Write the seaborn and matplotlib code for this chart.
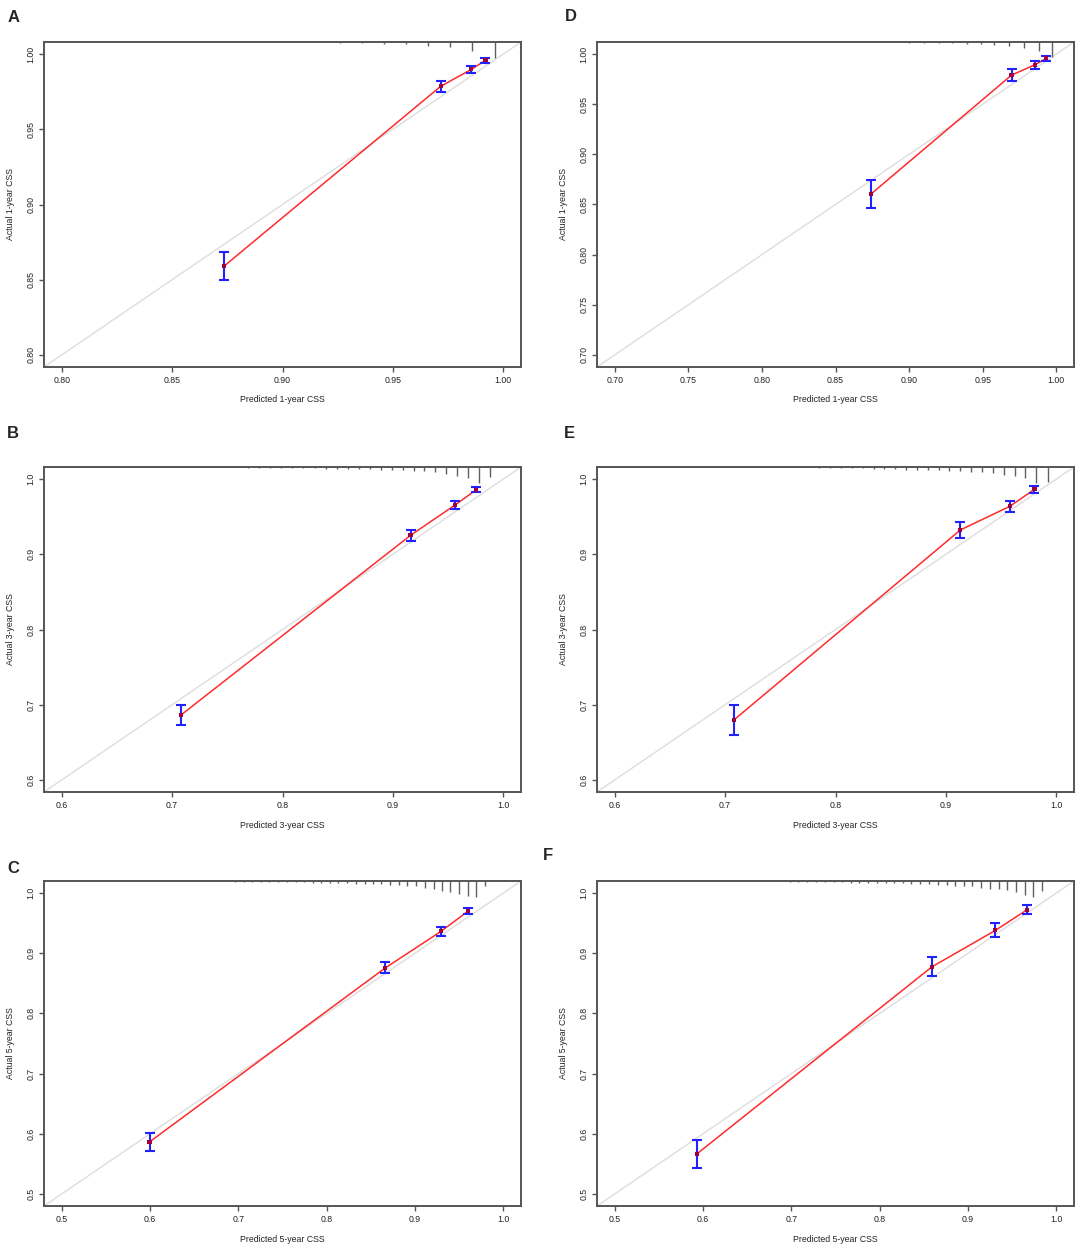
import matplotlib
matplotlib.use("Agg")
import matplotlib.pyplot as plt
import seaborn as sns
import numpy as np
import pandas as pd

sns.set_style("ticks")
plt.rcParams['font.family'] = ['Liberation Sans', 'DejaVu Sans']

W, H = 1084, 1252

# ---- panel A: 1-year CSS (left) ----
a_pred = [0.8735, 0.9716, 0.9855, 0.9919]
a_obs = [0.859, 0.9785, 0.9898, 0.9958]
a_lo = [0.8501, 0.9749, 0.9871, 0.9942]
a_hi = [0.8683, 0.9823, 0.9922, 0.9973]
a_rug_x = [0.866, 0.876, 0.886, 0.896, 0.906, 0.916, 0.926, 0.936, 0.946, 0.956,
           0.966, 0.976, 0.986, 0.996]
a_rug_n = [0.02, 0.02, 0.02, 0.02, 0.03, 0.03, 0.06, 0.06, 0.11, 0.14,
           0.23, 0.33, 0.56, 1.0]
a_ticks = [0.80, 0.85, 0.90, 0.95, 1.00]

# ---- panel B: 3-year CSS (left) ----
b_pred = [0.7084, 0.916, 0.9563, 0.9756]
b_obs = [0.6867, 0.9252, 0.9655, 0.9858]
b_lo = [0.6735, 0.9177, 0.9606, 0.9823]
b_hi = [0.700, 0.9323, 0.9708, 0.9889]
b_rug_x = [0.680, 0.690, 0.700, 0.710, 0.720, 0.730, 0.740, 0.750, 0.760, 0.769,
           0.779, 0.789, 0.799, 0.809, 0.819, 0.829, 0.839, 0.849, 0.859, 0.869,
           0.879, 0.889, 0.899, 0.909, 0.919, 0.928, 0.938, 0.948, 0.958, 0.968,
           0.978, 0.988]
b_rug_n = [0.02, 0.02, 0.02, 0.02, 0.02, 0.02, 0.02, 0.02, 0.02, 0.04,
           0.04, 0.04, 0.06, 0.06, 0.08, 0.08, 0.11, 0.11, 0.125, 0.125,
           0.14, 0.17, 0.19, 0.21, 0.25, 0.27, 0.33, 0.42, 0.54, 0.69,
           1.0, 0.63]
b_ticks = [0.6, 0.7, 0.8, 0.9, 1.0]

# ---- panel C: 5-year CSS (left) ----
c_pred = [0.5995, 0.8661, 0.9294, 0.9602]
c_obs = [0.5865, 0.8753, 0.9363, 0.9701]
c_lo = [0.5715, 0.8664, 0.9279, 0.965]
c_hi = [0.602, 0.8847, 0.943, 0.975]
c_rug_x = [0.521, 0.531, 0.540, 0.550, 0.560, 0.570, 0.579, 0.589, 0.599, 0.609,
           0.618, 0.628, 0.638, 0.648, 0.657, 0.667, 0.677, 0.687, 0.696, 0.706,
           0.716, 0.726, 0.735, 0.745, 0.755, 0.765, 0.774, 0.784, 0.794, 0.804,
           0.813, 0.823, 0.833, 0.843, 0.852, 0.862, 0.872, 0.882, 0.891, 0.901,
           0.911, 0.921, 0.930, 0.940, 0.950, 0.960, 0.969, 0.979]
c_rug_n = [0.02, 0.02, 0.02, 0.02, 0.02, 0.02, 0.02, 0.02, 0.02, 0.02,
           0.02, 0.02, 0.02, 0.02, 0.02, 0.02, 0.02, 0.02, 0.04, 0.04,
           0.04, 0.04, 0.04, 0.06, 0.06, 0.08, 0.08, 0.11, 0.11, 0.125,
           0.125, 0.14, 0.17, 0.17, 0.21, 0.21, 0.25, 0.25, 0.29, 0.33,
           0.42, 0.5, 0.63, 0.71, 0.79, 0.96, 1.0, 0.33]
c_ticks = [0.5, 0.6, 0.7, 0.8, 0.9, 1.0]

# ---- panel D: 1-year CSS (right) ----
d_pred = [0.8739, 0.9696, 0.9854, 0.9932]
d_obs = [0.8602, 0.979, 0.9893, 0.9957]
d_lo = [0.8462, 0.9734, 0.985, 0.9927]
d_hi = [0.8741, 0.985, 0.993, 0.9983]
d_rug_x = [0.803, 0.813, 0.822, 0.832, 0.842, 0.852, 0.861, 0.871, 0.881, 0.890,
           0.900, 0.910, 0.920, 0.929, 0.939, 0.949, 0.958, 0.968, 0.978, 0.988,
           0.997]
d_rug_n = [0.02, 0.02, 0.02, 0.02, 0.02, 0.02, 0.02, 0.02, 0.02, 0.02,
           0.04, 0.06, 0.06, 0.08, 0.11, 0.14, 0.21, 0.27, 0.375, 0.56,
           0.94]
d_ticks = [0.70, 0.75, 0.80, 0.85, 0.90, 0.95, 1.00]

# ---- panel E: 3-year CSS (right) ----
e_pred = [0.7083, 0.9131, 0.9578, 0.9802]
e_obs = [0.6801, 0.9323, 0.9637, 0.9863]
e_lo = [0.6597, 0.9212, 0.9558, 0.9814]
e_hi = [0.700, 0.9429, 0.9712, 0.9907]
e_rug_x = [0.677, 0.687, 0.697, 0.707, 0.716, 0.726, 0.736, 0.746, 0.756, 0.766,
           0.776, 0.785, 0.795, 0.805, 0.815, 0.825, 0.835, 0.844, 0.854, 0.864,
           0.874, 0.884, 0.894, 0.903, 0.913, 0.923, 0.933, 0.943, 0.953, 0.963,
           0.972, 0.982, 0.992]
e_rug_n = [0.02, 0.02, 0.02, 0.02, 0.02, 0.02, 0.02, 0.02, 0.02, 0.02,
           0.02, 0.04, 0.06, 0.06, 0.08, 0.08, 0.11, 0.125, 0.14, 0.17,
           0.19, 0.21, 0.21, 0.23, 0.27, 0.29, 0.33, 0.38, 0.48, 0.58,
           0.71, 1.0, 0.92]
e_ticks = [0.6, 0.7, 0.8, 0.9, 1.0]

# ---- panel F: 5-year CSS (right) ----
f_pred = [0.593, 0.8593, 0.931, 0.9669]
f_obs = [0.5665, 0.8775, 0.9379, 0.9723]
f_lo = [0.5432, 0.8614, 0.9268, 0.9645]
f_hi = [0.5904, 0.893, 0.9496, 0.98]
f_rug_x = [0.521, 0.531, 0.541, 0.551, 0.560, 0.570, 0.580, 0.590, 0.600, 0.610,
           0.620, 0.629, 0.639, 0.649, 0.659, 0.669, 0.679, 0.688, 0.698, 0.708,
           0.718, 0.728, 0.738, 0.748, 0.757, 0.767, 0.777, 0.787, 0.797, 0.807,
           0.816, 0.826, 0.836, 0.846, 0.856, 0.866, 0.876, 0.885, 0.895, 0.905,
           0.915, 0.925, 0.935, 0.944, 0.954, 0.964, 0.974, 0.984]
f_rug_n = [0.02, 0.02, 0.02, 0.02, 0.02, 0.02, 0.02, 0.02, 0.02, 0.02,
           0.02, 0.02, 0.02, 0.02, 0.02, 0.02, 0.02, 0.02, 0.04, 0.04,
           0.04, 0.06, 0.06, 0.08, 0.08, 0.1, 0.12, 0.12, 0.12, 0.14,
           0.14, 0.14, 0.16, 0.18, 0.2, 0.22, 0.24, 0.29, 0.31, 0.33,
           0.41, 0.49, 0.49, 0.57, 0.69, 0.86, 1.0, 0.6]
f_ticks = [0.5, 0.6, 0.7, 0.8, 0.9, 1.0]

panels = [
    ('A', 1, a_pred, a_obs, a_lo, a_hi, a_rug_x, a_rug_n, a_ticks, '%.2f', 44, 42, 8, 10),
    ('B', 3, b_pred, b_obs, b_lo, b_hi, b_rug_x, b_rug_n, b_ticks, '%.1f', 44, 467, 7, 426),
    ('C', 5, c_pred, c_obs, c_lo, c_hi, c_rug_x, c_rug_n, c_ticks, '%.1f', 44, 881, 7, 861),
    ('D', 1, d_pred, d_obs, d_lo, d_hi, d_rug_x, d_rug_n, d_ticks, '%.2f', 597, 42, 565, 9),
    ('E', 3, e_pred, e_obs, e_lo, e_hi, e_rug_x, e_rug_n, e_ticks, '%.1f', 597, 467, 564, 426),
    ('F', 5, f_pred, f_obs, f_lo, f_hi, f_rug_x, f_rug_n, f_ticks, '%.1f', 597, 881, 543, 848),
]

fig = plt.figure(figsize=(W / 100, H / 100), dpi=100)
aw, ah = 477, 325
frame = '#555555'
fs = 6.3

for letter, yr, pred, obs, lo, hi, rug_x, rug_n, ticks, fmt, px, py, lx, ly in panels:
    ax = fig.add_axes([px / W, 1 - (py + ah) / H, aw / W, ah / H])
    t0 = ticks[0]
    pad = 0.04 * (1 - t0)
    lim = (t0 - pad, 1 + pad)

    # ideal line
    ax.axline((t0, t0), slope=1, color='#DDDDDD', lw=1, zorder=1)

    df = pd.DataFrame({'pred': pred, 'obs': obs})
    sns.lineplot(data=df, x='pred', y='obs', color='#FF2A2A', lw=1.1,
                 estimator=None, sort=False, ax=ax, zorder=2)
    obs_a = np.array(obs)
    ax.errorbar(pred, obs, yerr=[obs_a - np.array(lo), np.array(hi) - obs_a],
                fmt='none', ecolor='#2222FF', elinewidth=1.5, capsize=3.5,
                capthick=1.5, zorder=3)
    sns.scatterplot(data=df, x='pred', y='obs', marker='s', s=9,
                    color='#A0003C', edgecolor='none', ax=ax, zorder=4)

    # distribution of predictions along the top
    ax.vlines(rug_x, 1 - 0.049 * np.array(rug_n), 1,
              transform=ax.get_xaxis_transform(), color='#606060', lw=1.0, zorder=2)

    ax.set_xlim(lim)
    ax.set_ylim(lim)
    ax.set_xticks(ticks)
    ax.set_yticks(ticks)
    ax.set_xticklabels([fmt % t for t in ticks])
    ax.set_yticklabels([fmt % t for t in ticks], rotation=90, va='center')
    ax.tick_params(direction='out', length=3.5, width=1, color=frame,
                   labelsize=fs, labelcolor='#222222')
    ax.tick_params(axis='x', pad=3.3)
    ax.tick_params(axis='y', pad=2.6)
    for s in ax.spines.values():
        s.set_color(frame)
        s.set_linewidth(1.4)

    ax.set_xlabel(f'Predicted {yr}-year CSS', fontsize=fs, va='center', color='#222222')
    ax.set_ylabel(f'Actual {yr}-year CSS', fontsize=fs, va='center', color='#222222')
    ax.xaxis.set_label_coords(0.5, -33 / ah)
    ax.yaxis.set_label_coords(-33 / aw, 0.5)

    fig.text(lx / W, 1 - ly / H, letter, fontsize=12, fontweight='bold',
             ha='left', va='top')

fig.savefig('out.png', dpi=100)
